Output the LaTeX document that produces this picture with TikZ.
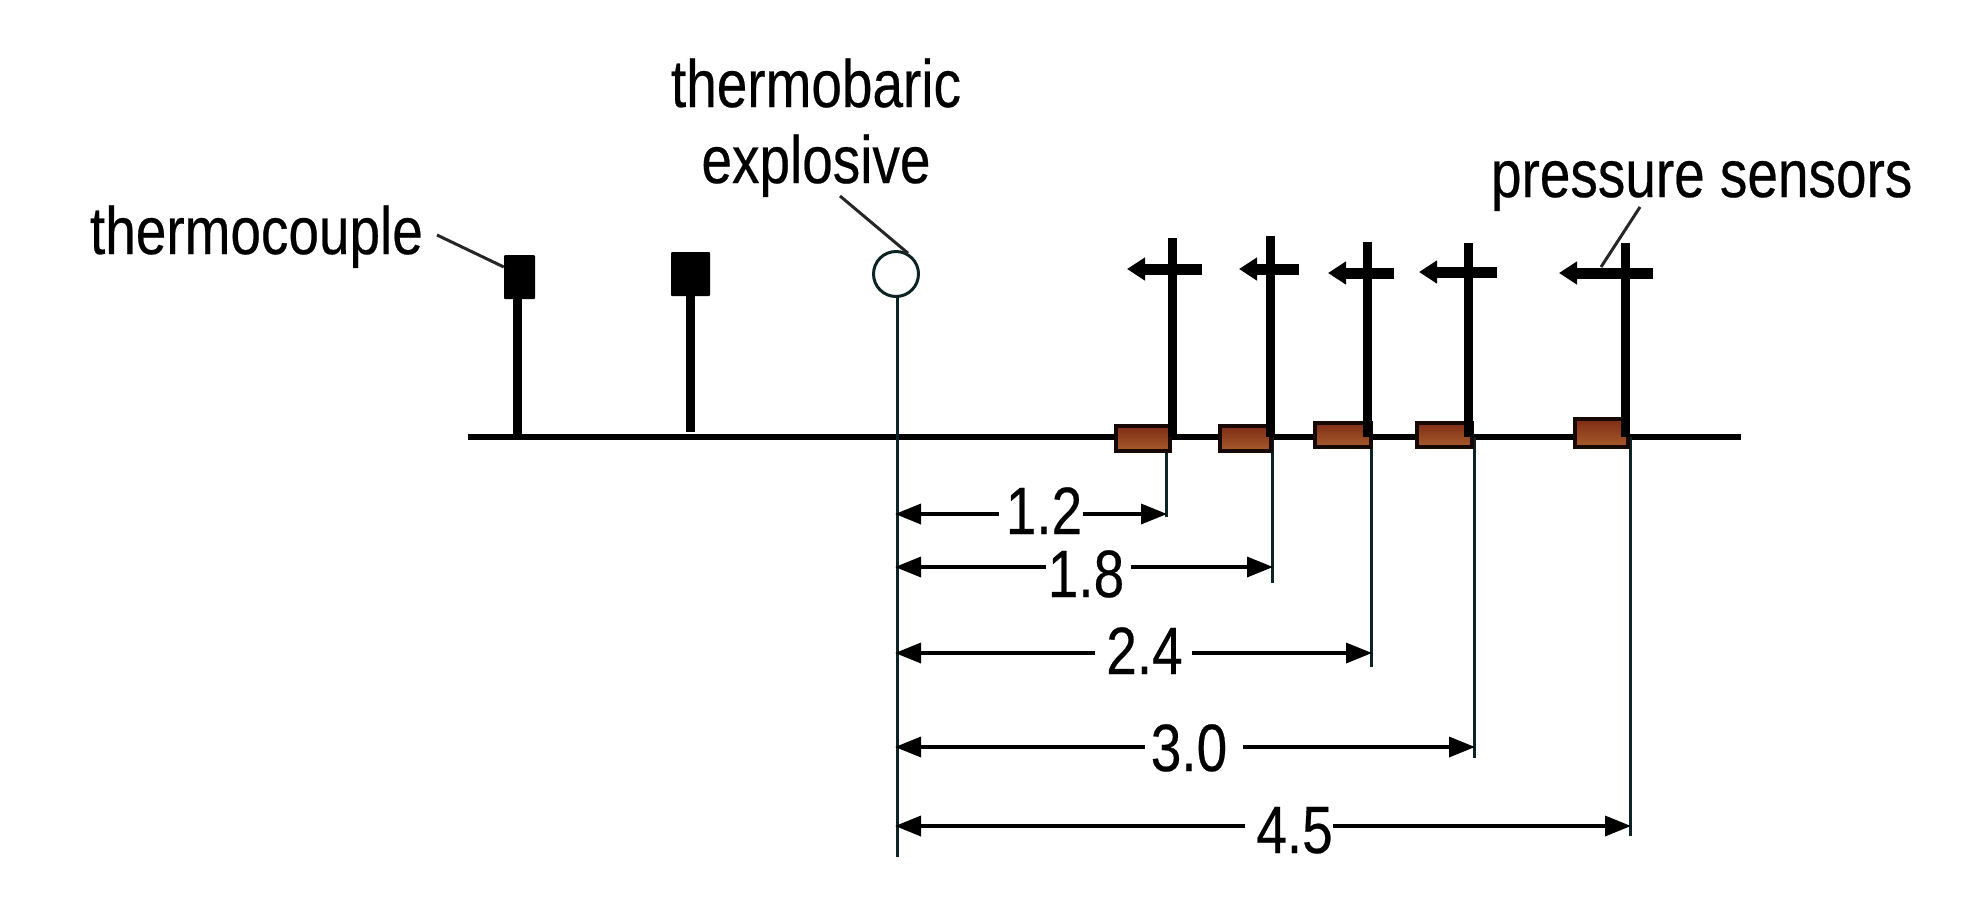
\documentclass[tikz,border=0pt]{standalone}
\usepackage{fontspec}
\usetikzlibrary{arrows.meta}
\newfontfamily\lblfont[FakeStretch=0.82,FakeBold=0.35]{Liberation Sans}
\definecolor{gaugecol}{HTML}{0E2424}
\definecolor{brickout}{HTML}{150805}
\definecolor{bricktop}{HTML}{7E2C16}
\definecolor{brickbot}{HTML}{A65A2A}
\tikzset{
  lbl/.style={inner sep=0pt,outer sep=0pt,font=\lblfont\fontsize{67}{70}\selectfont,text=black},
  base/.style={line width=6.5pt,black},
  stem/.style={line width=9pt,black},
  post/.style={line width=9pt,black},
  sensorbar/.style={line width=11pt,black,-{Triangle[length=18pt,width=22pt]}},
  gauge/.style={line width=3pt,gaugecol},
  dimen/.style={line width=3.5pt,black,-{Triangle[length=26pt,width=20pt]}},
  leader/.style={line width=3pt,black!85},
  tc/.style={fill=black,draw=none,rounded corners=1pt,inner sep=0pt},
  brick/.style={draw=brickout,line width=4pt,top color=bricktop,bottom color=brickbot,inner sep=0pt},
}
\begin{document}
\begin{tikzpicture}[x=1pt,y=-1pt]
\useasboundingbox (0,0) rectangle (1984,898);
% baseline
\coordinate (bl) at (468,437); \coordinate (br) at (1741,437);
\draw[base] (bl) -- (br);
% thin gauge lines (under bricks)
\coordinate (m0) at (897,296); \coordinate (m1) at (897,857);
\draw[gauge] (m0) -- (m1);
\foreach \n/\x/\yb in {a/1166/517,b/1272/583,c/1371/667,d/1474/758,e/1630/836}{
  \coordinate (g\n t) at (\x,437); \coordinate (g\n b) at (\x,\yb);
  \draw[gauge] (g\n t) -- (g\n b);
}
% thermocouples
\node[tc,minimum width=31pt,minimum height=44pt] (tc1) at (519.5,277) {};
\node[tc,minimum width=39pt,minimum height=44pt] (tc2) at (690.5,274) {};
\coordinate (tc1f) at (517,437); \coordinate (tc2f) at (690,432);
\draw[stem] (tc1.south -| tc1f) -- (tc1f);
\draw[stem] (tc2.south -| tc2f) -- (tc2f);
% explosive
\node[draw=gaugecol,line width=3pt,fill=white,circle,minimum size=45pt,inner sep=0pt] (ex) at (896,274) {};
% bricks
\foreach \n/\xa/\ya/\xb/\yb in {1/1115.5/425.5/1169.5/450.5,2/1219.5/425.5/1270.5/450.5,3/1314.5/422.5/1370.5/446.5,4/1416.5/422.5/1471.5/446.5,5/1574.5/418.5/1627.5/446.5}{
  \path[brick] (\xa,\ya) rectangle (\xb,\yb);
}
% sensor posts and bars
\foreach \n/\x/\t/\yy/\tip/\r in {1/1172/238/269/1127/1202,2/1270/236/269/1239/1299,3/1367/242/273/1328/1394,4/1468/243/272/1419/1497,5/1625/243/273/1559/1653}{
  \coordinate (p\n t) at (\x,\t); \coordinate (p\n b) at (\x,437);
  \coordinate (s\n r) at (\r,\yy); \coordinate (s\n l) at (\tip,\yy);
  \draw[post] (p\n t) -- (p\n b);
  \draw[sensorbar] (s\n r) -- (s\n l);
}
% labels
\node[lbl,anchor=base west] (ltc) at (90,254) {thermocouple};
\node[lbl,anchor=base] (lth) at (816,107) {thermobaric};
\node[lbl,anchor=base] (lex) at (816,183) {explosive};
\node[lbl,anchor=base west] (lps) at (1491,197) {pressure sensors};
\coordinate (ltcf) at (437,235); \coordinate (lexf) at (840,196); \coordinate (lpsf) at (1640,207);
\coordinate (ps5) at (1601,267);
\draw[leader] (ltcf) -- (tc1.north west |- 0,267);
\draw[leader] (lexf) -- (ex.60);
\draw[leader] (lpsf) -- (ps5);
% dimensions
\foreach \n/\g/\val/\cx/\by/\ay/\xl/\xr/\xe in {
 a/a/1.2/1044/534/514/999/1083/1167,
 b/b/1.8/1086/597/567/1046/1131/1273,
 c/c/2.4/1144.5/674/653/1095/1192/1372,
 d/d/3.0/1189/771/747/1145/1243/1475,
 e/e/4.5/1294.5/853/826/1245/1333/1631}{
  \node[lbl,anchor=base] (v\n) at (\cx,\by) {\val};
  \coordinate (o\n) at (895,\ay);
  \coordinate (q\n) at (\xe,\ay);
  \coordinate (hl\n) at (\xl,\ay);
  \coordinate (hr\n) at (\xr,\ay);
  \draw[dimen] (hl\n) -- (o\n);
  \draw[dimen] (hr\n) -- (q\n);
}
\end{tikzpicture}
\end{document}
